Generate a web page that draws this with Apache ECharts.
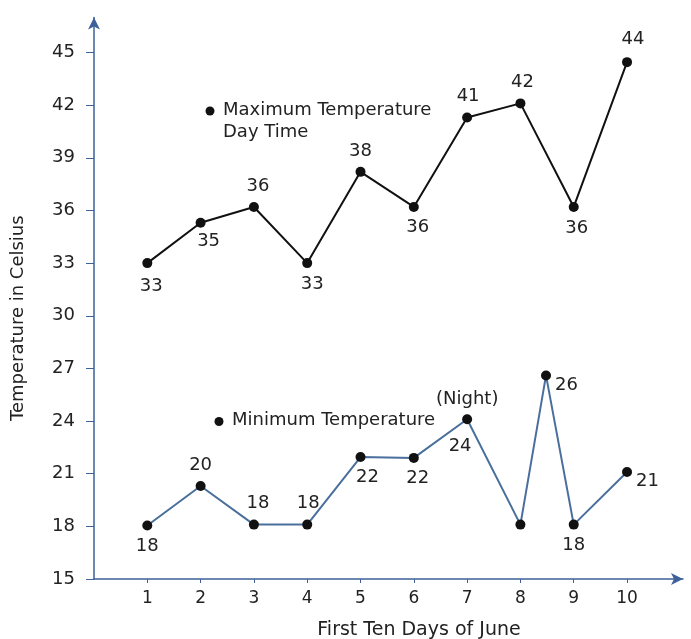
<!DOCTYPE html>
<html><head><meta charset="utf-8">
<script src="https://cdn.jsdelivr.net/npm/echarts@6/dist/echarts.min.js"></script>
<style>html,body{margin:0;padding:0;background:#fff}#c{width:691px;height:639px}</style>
</head><body><div id="c"></div>
<script>
// ---- data ----
var xTicks = [1,2,3,4,5,6,7,8,9,10];
var yTicks = [15,18,21,24,27,30,33,36,39,42,45];
var maxDays = [1,2,3,4,5,6,7,8,9,10];
var maxValues = [33, 35.3, 36.2, 33, 38.2, 36.2, 41.3, 42.1, 36.2, 44.45];
var maxLabels = ['33','35','36','33','38','36','41','42','36','44'];
var minDays = [1,2,3,4,5,6,7,8,8.48,9,10];
var minValues = [18.05, 20.3, 18.1, 18.1, 21.95, 21.9, 24.1, 18.1, 26.6, 18.1, 21.1];
var minLabels = ['18','20','18','18','22','22','24','','26','18','21'];
var xName = 'First Ten Days of June';
var yName = 'Temperature in Celsius';

// ---- label placement (style) ----
var maxLabelPos = [['bottom',[4,2]],['bottom',[8,-2]],['top',[4,0]],['bottom',[5,0]],['top',[0,0]],['bottom',[4,-1]],['top',[1,0]],['top',[2,0]],['bottom',[3,0]],['top',[6,-2]]];
var minLabelPos = [['bottom',[0,0]],['top',[0,0]],['top',[4,0]],['top',[1,0]],['bottom',[7,-1]],['bottom',[4,-1]],['bottom',[-7,6]],['bottom',[0,0]],['right',[-3,10]],['bottom',[0,0]],['right',[-3,9]]];

var axisBlue = '#3d6198';
var txt = '#222';
var FONT = 'DejaVu Sans';

function build(days, vals, labels, pos){
  return days.map(function(d,i){
    return {value:[d, vals[i]], label:{show: labels[i] !== '', formatter: labels[i], position: pos[i][0], offset: pos[i][1]}};
  });
}

var chart = echarts.init(document.getElementById('c'), null, {renderer:'canvas'});
chart.setOption({
  animation:false,
  backgroundColor:'#fff',
  textStyle:{fontFamily:FONT},
  grid:{left:94, right:8, top:17.4, bottom:60, containLabel:false, outerBoundsMode:'none'},
  xAxis:{
    type:'value', min:0, max:11.05,
    name:xName, nameLocation:'middle', nameGap:42,
    nameTextStyle:{fontSize:19, color:txt, fontFamily:FONT, padding:[0,0,0,61]},
    axisLine:{show:true, onZero:false, lineStyle:{color:axisBlue, width:1.5}, symbol:['none','arrow'], symbolSize:[9,12]},
    axisTick:{show:true, customValues:xTicks, length:4, lineStyle:{color:axisBlue}},
    axisLabel:{customValues:xTicks, margin:11, fontSize:17, color:txt, fontFamily:FONT},
    splitLine:{show:false}
  },
  yAxis:{
    type:'value', min:15, max:47,
    name:yName, nameLocation:'middle', nameGap:67,
    nameTextStyle:{fontSize:18, color:txt, fontFamily:FONT, padding:[0,40,0,0]},
    axisLine:{show:true, onZero:false, lineStyle:{color:axisBlue, width:1.5}, symbol:['none','arrow'], symbolSize:[9,12]},
    axisTick:{show:true, customValues:yTicks, length:8, lineStyle:{color:axisBlue}},
    axisLabel:{customValues:yTicks, margin:19, fontSize:18, color:txt, fontFamily:FONT},
    splitLine:{show:false}
  },
  series:[
    {
      type:'line', data:build(maxDays, maxValues, maxLabels, maxLabelPos),
      symbol:'circle', symbolSize:10,
      itemStyle:{color:'#111'},
      lineStyle:{color:'#111', width:2},
      label:{fontSize:18, color:txt, fontFamily:FONT, distance:7},
      z:3
    },
    {
      type:'line', data:build(minDays, minValues, minLabels, minLabelPos),
      symbol:'circle', symbolSize:10,
      itemStyle:{color:'#111'},
      lineStyle:{color:'#4a6f9c', width:2},
      label:{fontSize:18, color:txt, fontFamily:FONT, distance:7},
      z:3
    }
  ],
  graphic:[
    {type:'circle', shape:{cx:210, cy:111, r:4.5}, style:{fill:'#111'}},
    {type:'text', left:223, top:101, style:{text:'Maximum Temperature', font:'18px "DejaVu Sans"', fill:txt}},
    {type:'text', left:223, top:123, style:{text:'Day Time', font:'18px "DejaVu Sans"', fill:txt}},
    {type:'circle', shape:{cx:219, cy:421.5, r:4.5}, style:{fill:'#111'}},
    {type:'text', left:232, top:411, style:{text:'Minimum Temperature', font:'18px "DejaVu Sans"', fill:txt}},
    {type:'text', left:436, top:390, style:{text:'(Night)', font:'18px "DejaVu Sans"', fill:txt}}
  ]
});
</script></body></html>
